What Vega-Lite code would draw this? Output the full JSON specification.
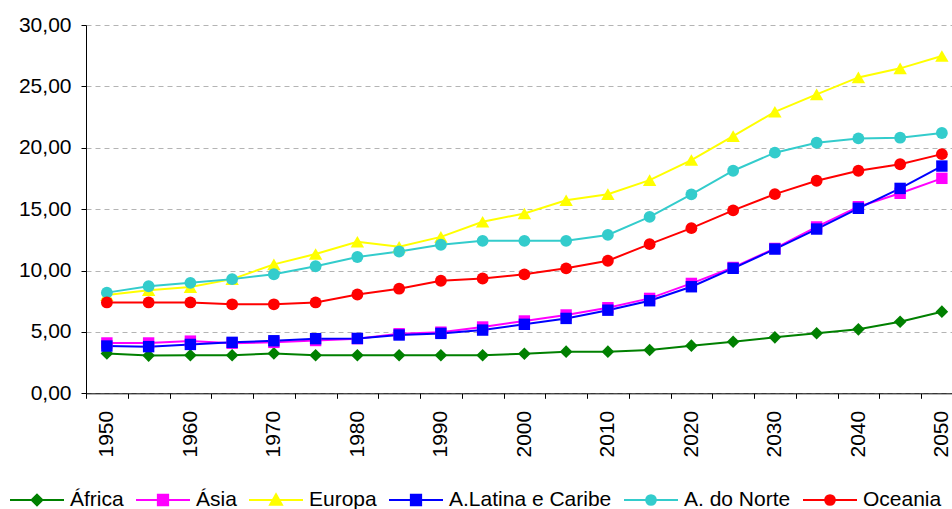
{
  "$schema": "https://vega.github.io/schema/vega-lite/v6.json",
  "width": 866,
  "height": 368.3,
  "autosize": {"type": "none"},
  "padding": {"left": 86, "top": 25, "right": 0, "bottom": 115.7},
  "background": "white",
  "data": {
    "values": [
      {"ano": 1950, "regiao": "África", "valor": 3.25}, {"ano": 1955, "regiao": "África", "valor": 3.07}, {"ano": 1960, "regiao": "África", "valor": 3.1}, {"ano": 1965, "regiao": "África", "valor": 3.1}, {"ano": 1970, "regiao": "África", "valor": 3.25}, {"ano": 1975, "regiao": "África", "valor": 3.1}, {"ano": 1980, "regiao": "África", "valor": 3.1}, {"ano": 1985, "regiao": "África", "valor": 3.1}, {"ano": 1990, "regiao": "África", "valor": 3.1}, {"ano": 1995, "regiao": "África", "valor": 3.1}, {"ano": 2000, "regiao": "África", "valor": 3.22}, {"ano": 2005, "regiao": "África", "valor": 3.39}, {"ano": 2010, "regiao": "África", "valor": 3.39}, {"ano": 2015, "regiao": "África", "valor": 3.53}, {"ano": 2020, "regiao": "África", "valor": 3.88}, {"ano": 2025, "regiao": "África", "valor": 4.2}, {"ano": 2030, "regiao": "África", "valor": 4.56}, {"ano": 2035, "regiao": "África", "valor": 4.89}, {"ano": 2040, "regiao": "África", "valor": 5.21}, {"ano": 2045, "regiao": "África", "valor": 5.83}, {"ano": 2050, "regiao": "África", "valor": 6.65},
      {"ano": 1950, "regiao": "Ásia", "valor": 4.1}, {"ano": 1955, "regiao": "Ásia", "valor": 4.1}, {"ano": 1960, "regiao": "Ásia", "valor": 4.25}, {"ano": 1965, "regiao": "Ásia", "valor": 4.08}, {"ano": 1970, "regiao": "Ásia", "valor": 4.15}, {"ano": 1975, "regiao": "Ásia", "valor": 4.3}, {"ano": 1980, "regiao": "Ásia", "valor": 4.45}, {"ano": 1985, "regiao": "Ásia", "valor": 4.85}, {"ano": 1990, "regiao": "Ásia", "valor": 4.98}, {"ano": 1995, "regiao": "Ásia", "valor": 5.4}, {"ano": 2000, "regiao": "Ásia", "valor": 5.89}, {"ano": 2005, "regiao": "Ásia", "valor": 6.38}, {"ano": 2010, "regiao": "Ásia", "valor": 6.97}, {"ano": 2015, "regiao": "Ásia", "valor": 7.73}, {"ano": 2020, "regiao": "Ásia", "valor": 8.95}, {"ano": 2025, "regiao": "Ásia", "valor": 10.25}, {"ano": 2030, "regiao": "Ásia", "valor": 11.8}, {"ano": 2035, "regiao": "Ásia", "valor": 13.55}, {"ano": 2040, "regiao": "Ásia", "valor": 15.2}, {"ano": 2045, "regiao": "Ásia", "valor": 16.29}, {"ano": 2050, "regiao": "Ásia", "valor": 17.51},
      {"ano": 1950, "regiao": "Europa", "valor": 8.0}, {"ano": 1955, "regiao": "Europa", "valor": 8.4}, {"ano": 1960, "regiao": "Europa", "valor": 8.65}, {"ano": 1965, "regiao": "Europa", "valor": 9.3}, {"ano": 1970, "regiao": "Europa", "valor": 10.5}, {"ano": 1975, "regiao": "Europa", "valor": 11.35}, {"ano": 1980, "regiao": "Europa", "valor": 12.34}, {"ano": 1985, "regiao": "Europa", "valor": 11.93}, {"ano": 1990, "regiao": "Europa", "valor": 12.74}, {"ano": 1995, "regiao": "Europa", "valor": 13.97}, {"ano": 2000, "regiao": "Europa", "valor": 14.65}, {"ano": 2005, "regiao": "Europa", "valor": 15.73}, {"ano": 2010, "regiao": "Europa", "valor": 16.22}, {"ano": 2015, "regiao": "Europa", "valor": 17.36}, {"ano": 2020, "regiao": "Europa", "valor": 19.0}, {"ano": 2025, "regiao": "Europa", "valor": 20.95}, {"ano": 2030, "regiao": "Europa", "valor": 22.93}, {"ano": 2035, "regiao": "Europa", "valor": 24.35}, {"ano": 2040, "regiao": "Europa", "valor": 25.73}, {"ano": 2045, "regiao": "Europa", "valor": 26.47}, {"ano": 2050, "regiao": "Europa", "valor": 27.47},
      {"ano": 1950, "regiao": "A.Latina e Caribe", "valor": 3.85}, {"ano": 1955, "regiao": "A.Latina e Caribe", "valor": 3.8}, {"ano": 1960, "regiao": "A.Latina e Caribe", "valor": 3.98}, {"ano": 1965, "regiao": "A.Latina e Caribe", "valor": 4.15}, {"ano": 1970, "regiao": "A.Latina e Caribe", "valor": 4.28}, {"ano": 1975, "regiao": "A.Latina e Caribe", "valor": 4.45}, {"ano": 1980, "regiao": "A.Latina e Caribe", "valor": 4.47}, {"ano": 1985, "regiao": "A.Latina e Caribe", "valor": 4.75}, {"ano": 1990, "regiao": "A.Latina e Caribe", "valor": 4.88}, {"ano": 1995, "regiao": "A.Latina e Caribe", "valor": 5.15}, {"ano": 2000, "regiao": "A.Latina e Caribe", "valor": 5.62}, {"ano": 2005, "regiao": "A.Latina e Caribe", "valor": 6.1}, {"ano": 2010, "regiao": "A.Latina e Caribe", "valor": 6.77}, {"ano": 2015, "regiao": "A.Latina e Caribe", "valor": 7.54}, {"ano": 2020, "regiao": "A.Latina e Caribe", "valor": 8.68}, {"ano": 2025, "regiao": "A.Latina e Caribe", "valor": 10.18}, {"ano": 2030, "regiao": "A.Latina e Caribe", "valor": 11.75}, {"ano": 2035, "regiao": "A.Latina e Caribe", "valor": 13.38}, {"ano": 2040, "regiao": "A.Latina e Caribe", "valor": 15.07}, {"ano": 2045, "regiao": "A.Latina e Caribe", "valor": 16.69}, {"ano": 2050, "regiao": "A.Latina e Caribe", "valor": 18.51},
      {"ano": 1950, "regiao": "A. do Norte", "valor": 8.2}, {"ano": 1955, "regiao": "A. do Norte", "valor": 8.72}, {"ano": 1960, "regiao": "A. do Norte", "valor": 9.0}, {"ano": 1965, "regiao": "A. do Norte", "valor": 9.3}, {"ano": 1970, "regiao": "A. do Norte", "valor": 9.7}, {"ano": 1975, "regiao": "A. do Norte", "valor": 10.35}, {"ano": 1980, "regiao": "A. do Norte", "valor": 11.1}, {"ano": 1985, "regiao": "A. do Norte", "valor": 11.55}, {"ano": 1990, "regiao": "A. do Norte", "valor": 12.1}, {"ano": 1995, "regiao": "A. do Norte", "valor": 12.42}, {"ano": 2000, "regiao": "A. do Norte", "valor": 12.42}, {"ano": 2005, "regiao": "A. do Norte", "valor": 12.42}, {"ano": 2010, "regiao": "A. do Norte", "valor": 12.9}, {"ano": 2015, "regiao": "A. do Norte", "valor": 14.37}, {"ano": 2020, "regiao": "A. do Norte", "valor": 16.2}, {"ano": 2025, "regiao": "A. do Norte", "valor": 18.13}, {"ano": 2030, "regiao": "A. do Norte", "valor": 19.6}, {"ano": 2035, "regiao": "A. do Norte", "valor": 20.41}, {"ano": 2040, "regiao": "A. do Norte", "valor": 20.76}, {"ano": 2045, "regiao": "A. do Norte", "valor": 20.82}, {"ano": 2050, "regiao": "A. do Norte", "valor": 21.2},
      {"ano": 1950, "regiao": "Oceania", "valor": 7.4}, {"ano": 1955, "regiao": "Oceania", "valor": 7.4}, {"ano": 1960, "regiao": "Oceania", "valor": 7.4}, {"ano": 1965, "regiao": "Oceania", "valor": 7.25}, {"ano": 1970, "regiao": "Oceania", "valor": 7.25}, {"ano": 1975, "regiao": "Oceania", "valor": 7.4}, {"ano": 1980, "regiao": "Oceania", "valor": 8.05}, {"ano": 1985, "regiao": "Oceania", "valor": 8.52}, {"ano": 1990, "regiao": "Oceania", "valor": 9.17}, {"ano": 1995, "regiao": "Oceania", "valor": 9.35}, {"ano": 2000, "regiao": "Oceania", "valor": 9.69}, {"ano": 2005, "regiao": "Oceania", "valor": 10.18}, {"ano": 2010, "regiao": "Oceania", "valor": 10.8}, {"ano": 2015, "regiao": "Oceania", "valor": 12.15}, {"ano": 2020, "regiao": "Oceania", "valor": 13.45}, {"ano": 2025, "regiao": "Oceania", "valor": 14.9}, {"ano": 2030, "regiao": "Oceania", "valor": 16.22}, {"ano": 2035, "regiao": "Oceania", "valor": 17.31}, {"ano": 2040, "regiao": "Oceania", "valor": 18.13}, {"ano": 2045, "regiao": "Oceania", "valor": 18.66}, {"ano": 2050, "regiao": "Oceania", "valor": 19.48}
    ]
  },
  "encoding": {
    "x": {
      "field": "ano",
      "type": "ordinal",
      "scale": {"type": "band", "paddingInner": 0, "paddingOuter": 0, "range": [0, 876.75]},
      "axis": {
        "title": null,
        "labelAngle": 270,
        "labelExpr": "datum.value % 10 === 0 ? datum.label : ''",
        "labelOverlap": false,
        "tickBand": "extent",
        "tickSize": 5,
        "labelPadding": 12,
        "labelFontSize": 21,
        "labelColor": "#000000",
        "domainColor": "#000000",
        "tickColor": "#000000",
        "grid": false
      }
    },
    "y": {
      "field": "valor",
      "type": "quantitative",
      "scale": {"domain": [0, 30], "nice": false},
      "axis": {
        "title": null,
        "values": [0, 5, 10, 15, 20, 25, 30],
        "labelExpr": "replace(format(datum.value, '.2f'), '.', ',')",
        "tickSize": 5,
        "labelPadding": 10,
        "labelFontSize": 21,
        "labelColor": "#000000",
        "domainColor": "#000000",
        "tickColor": "#000000",
        "grid": true,
        "gridDash": [5, 4],
        "gridColor": "#b4b4b4",
        "gridWidth": 1
      }
    },
    "color": {
      "field": "regiao",
      "type": "nominal",
      "scale": {"domain": ["África", "Ásia", "Europa", "A.Latina e Caribe", "A. do Norte", "Oceania"], "range": ["#008000", "#ff00ff", "#ffff00", "#0000ff", "#33cccc", "#ff0000"]},
      "legend": null
    }
  },
  "layer": [
    {"mark": {"type": "line", "strokeWidth": 2}},
    {
      "transform": [{"filter": "datum.regiao === 'África'"}],
      "mark": {"type": "point", "shape": "diamond", "filled": true, "opacity": 1, "size": 160}
    },
    {
      "transform": [{"filter": "datum.regiao === 'Ásia' || datum.regiao === 'A.Latina e Caribe'"}],
      "mark": {"type": "point", "shape": "square", "filled": true, "opacity": 1, "size": 130}
    },
    {
      "transform": [{"filter": "datum.regiao === 'Europa'"}],
      "mark": {"type": "point", "shape": "triangle-up", "filled": true, "opacity": 1, "size": 180}
    },
    {
      "transform": [{"filter": "datum.regiao === 'A. do Norte' || datum.regiao === 'Oceania'"}],
      "mark": {"type": "point", "shape": "circle", "filled": true, "opacity": 1, "size": 140}
    },
    {
      "transform": [{"filter": "false"}],
      "mark": {"type": "point", "filled": true, "opacity": 1, "size": 2916, "strokeWidth": 2},
      "encoding": {
        "color": {
          "field": "regiao",
          "type": "nominal",
          "title": null,
          "scale": {"domain": ["África", "Ásia", "Europa", "A.Latina e Caribe", "A. do Norte", "Oceania"], "range": ["#008000", "#ff00ff", "#ffff00", "#0000ff", "#33cccc", "#ff0000"]},
          "legend": {}
        },
        "stroke": {
          "field": "regiao",
          "type": "nominal",
          "title": null,
          "scale": {"domain": ["África", "Ásia", "Europa", "A.Latina e Caribe", "A. do Norte", "Oceania"], "range": ["#008000", "#ff00ff", "#ffff00", "#0000ff", "#33cccc", "#ff0000"]},
          "legend": {}
        },
        "shape": {
          "field": "regiao",
          "type": "nominal",
          "title": null,
          "scale": {
            "domain": ["África", "Ásia", "Europa", "A.Latina e Caribe", "A. do Norte", "Oceania"],
            "range": [
              "M-1,0H1M0,-0.2L0.2,0L0,0.2L-0.2,0Z",
              "M-1,0H1M-0.19,-0.19H0.19V0.19H-0.19Z",
              "M-1,0H1M0,-0.21L0.22,0.18H-0.22Z",
              "M-1,0H1M-0.19,-0.19H0.19V0.19H-0.19Z",
              "M-1,0H1M0.18,0A0.18,0.18,0,1,1,-0.18,0A0.18,0.18,0,1,1,0.18,0Z",
              "M-1,0H1M0.18,0A0.18,0.18,0,1,1,-0.18,0A0.18,0.18,0,1,1,0.18,0Z"
            ]
          },
          "legend": {}
        }
      }
    }
  ],
  "resolve": {
    "scale": {"shape": "independent", "color": "independent", "stroke": "independent"},
    "legend": {"shape": "independent", "color": "independent", "stroke": "independent"}
  },
  "config": {
    "font": "Liberation Sans",
    "view": {"stroke": null},
    "legend": {
      "orient": "none",
      "legendX": -77,
      "legendY": 447,
      "direction": "horizontal",
      "columns": 6,
      "labelFontSize": 21,
      "labelFont": "Liberation Sans",
      "labelColor": "#000000",
      "symbolSize": 2916,
      "symbolStrokeWidth": 2,
      "symbolOpacity": 1,
      "labelOffset": 5,
      "columnPadding": 8,
      "padding": 0,
      "labelLimit": 400
    }
  }
}
